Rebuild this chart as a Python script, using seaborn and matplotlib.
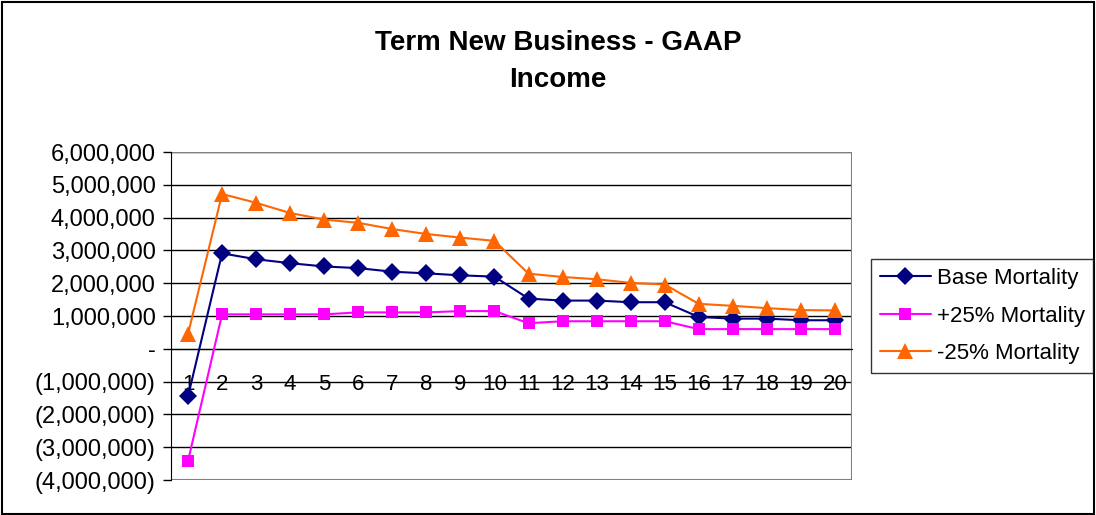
import pandas as pd
import seaborn as sns
import matplotlib.pyplot as plt
from matplotlib.patches import Rectangle
from matplotlib.lines import Line2D
from matplotlib.ticker import FuncFormatter, FixedLocator

#  Daten 
jahre = list(range(1, 21))
base_mortality = [-1450000, 2910000, 2730000, 2610000, 2510000, 2460000, 2350000, 2300000, 2240000, 2200000,
                  1530000, 1470000, 1470000, 1420000, 1420000, 970000, 920000, 920000, 870000, 870000]
plus25_mortality = [-3420000, 1050000, 1050000, 1050000, 1050000, 1110000, 1110000, 1110000, 1150000, 1150000,
                    780000, 840000, 840000, 840000, 840000, 600000, 600000, 600000, 600000, 600000]
minus25_mortality = [450000, 4720000, 4450000, 4140000, 3940000, 3840000, 3650000, 3500000, 3390000, 3290000,
                     2290000, 2190000, 2120000, 2010000, 1960000, 1370000, 1310000, 1240000, 1180000, 1170000]
serien = ["Base Mortality", "+25% Mortality", "-25% Mortality"]
farben = ["#000080", "#FF00FF", "#FF6600"]
marker = ["D", "s", "^"]
marker_groesse = [9, 9, 11]

df = pd.concat([
    pd.DataFrame({"jahr": jahre, "wert": base_mortality, "serie": serien[0]}),
    pd.DataFrame({"jahr": jahre, "wert": plus25_mortality, "serie": serien[1]}),
    pd.DataFrame({"jahr": jahre, "wert": minus25_mortality, "serie": serien[2]}),
])

sns.set_style("white")
plt.rcParams["font.family"] = ["Liberation Sans", "DejaVu Sans"]
plt.rcParams["text.color"] = "black"
plt.rcParams["xtick.color"] = "black"
plt.rcParams["ytick.color"] = "black"

fig = plt.figure(figsize=(10.96, 5.15), dpi=100)
ax = fig.add_axes([171 / 1096, 1 - 480 / 515, 681 / 1096, 328 / 515])

sns.lineplot(data=df, x="jahr", y="wert", hue="serie", style="serie",
             palette=dict(zip(serien, farben)), markers=dict(zip(serien, marker)),
             dashes=False, markersize=9, markeredgewidth=0, linewidth=1.5,
             legend=False, ax=ax, zorder=3)
# Dreiecke etwas groesser
for linie, groesse in zip(ax.get_lines(), marker_groesse):
    linie.set_markersize(groesse)

ax.set_xlim(0.5, 20.5)
ax.set_ylim(-4000000, 6000000)
ax.set_yticks(range(-4000000, 6000001, 1000000))


def fmt(v, pos):
    if v == 0:
        return "-"
    if v < 0:
        return f"({abs(v):,.0f})"
    return f"{v:,.0f}"


ax.yaxis.set_major_formatter(FuncFormatter(fmt))
ax.grid(axis="y", color="black", linewidth=1)
ax.set_axisbelow(True)

# x-Achse bei Null
ax.spines["bottom"].set_position(("data", 0))
ax.spines["bottom"].set_color("black")
ax.spines["left"].set_color("black")
for s in ["top", "right"]:
    ax.spines[s].set_visible(False)
ax.add_patch(Rectangle((0, 0), 1, 1, transform=ax.transAxes, fill=False,
                       edgecolor="#808080", linewidth=1.5, zorder=1))

ax.set_xticks(jahre)
ax.xaxis.set_minor_locator(FixedLocator([j + 0.5 for j in range(0, 21)]))
ax.tick_params(axis="x", which="major", length=0, pad=18, labelsize=16)
ax.tick_params(axis="x", which="minor", length=6, width=1, direction="out", color="black")
ax.tick_params(axis="y", length=6, width=1, direction="out", color="black", pad=5, labelsize=17, left=True)
ax.set_xlabel("")
ax.set_ylabel("")

fig.text(558 / 1096, 1 - 43 / 515, "Term New Business - GAAP", ha="center", va="center",
         fontsize=20, fontweight="bold")
fig.text(558 / 1096, 1 - 80 / 515, "Income", ha="center", va="center",
         fontsize=20, fontweight="bold")

handles = [Line2D([0], [0], color=c, marker=m, markersize=g, markeredgewidth=0, linewidth=1.5)
           for c, m, g in zip(farben, marker, marker_groesse)]
leg = fig.legend(handles, serien, loc="upper left", bbox_to_anchor=(871 / 1096, 1 - 259 / 515),
                 fontsize=16, frameon=True, fancybox=False, edgecolor="black",
                 handlelength=2.3, borderpad=0.4, labelspacing=0.75, handletextpad=0.25,
                 borderaxespad=0)
leg.get_frame().set_linewidth(1)

fig.patches.append(Rectangle((0.002, 0.002), 0.996, 0.994, transform=fig.transFigure,
                             fill=False, edgecolor="black", linewidth=1.5))

plt.savefig("out.png", dpi=100)
plt.close()
